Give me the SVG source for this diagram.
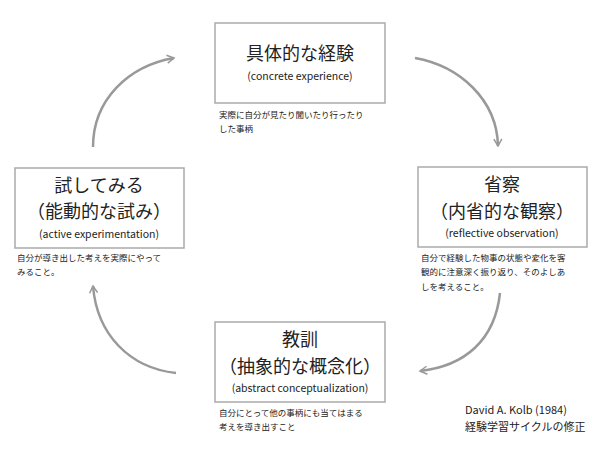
<svg xmlns="http://www.w3.org/2000/svg" width="600" height="450" viewBox="0 0 600 450">
<style>
.box{fill:#fff;stroke:#aaa;stroke-width:1.5}
text{font-family:"Noto Sans CJK JP","Noto Sans",sans-serif;fill:#222;text-anchor:middle}
.t{font-size:18px}
.s{font-size:10.5px}
.d{font-size:8.5px;text-anchor:start}
.c{font-size:11px;text-anchor:start}
.arr{fill:none;stroke:#999;stroke-width:2.5;marker-end:url(#ah)}
</style>
<defs><marker id="ah" viewBox="0 0 10 10" refX="8" refY="5" markerWidth="4" markerHeight="4" orient="auto" markerUnits="strokeWidth"><path d="M1,1 L8,5 L1,9" fill="none" stroke="#999" stroke-width="1.5"/></marker></defs>
<rect width="600" height="450" fill="#fff"/>
<g id="connectors">
<path class="arr" d="M93,147 C93,100 128,66 174,58"/>
<path class="arr" d="M415,58 C460,66 497,100 498,146"/>
<path class="arr" d="M500,293 C495,340 465,366 420,371"/>
<path class="arr" d="M176,373 C130,368 97,335 93,286"/>
</g>
<g id="concrete">
<rect class="box" x="215" y="23" width="170" height="80"/>
<text class="t" x="300" y="60">具体的な経験</text>
<text class="s" x="300" y="80">(concrete experience)</text>
<text class="d" x="219" y="118">実際に自分が見たり聞いたり行ったり</text>
<text class="d" x="219" y="132">した事柄</text>
</g>
<g id="reflective">
<rect class="box" x="418" y="167" width="169" height="80"/>
<text class="t" x="502" y="191">省察</text>
<text class="t" x="502" y="218">（内省的な観察）</text>
<text class="s" x="502" y="237">(reflective observation)</text>
<text class="d" x="421" y="261">自分で経験した物事の状態や変化を客</text>
<text class="d" x="421" y="275">観的に注意深く振り返り、そのよしあ</text>
<text class="d" x="421" y="290">しを考えること。</text>
</g>
<g id="abstract">
<rect class="box" x="215" y="322" width="170" height="80"/>
<text class="t" x="300" y="346">教訓</text>
<text class="t" x="300" y="373">（抽象的な概念化）</text>
<text class="s" x="300" y="392">(abstract conceptualization)</text>
<text class="d" x="219" y="416">自分にとって他の事柄にも当てはまる</text>
<text class="d" x="219" y="430">考えを導き出すこと</text>
</g>
<g id="active">
<rect class="box" x="15" y="168" width="169" height="80"/>
<text class="t" x="99" y="192">試してみる</text>
<text class="t" x="99" y="218">（能動的な試み）</text>
<text class="s" x="99" y="238">(active experimentation)</text>
<text class="d" x="17" y="261">自分が導き出した考えを実際にやって</text>
<text class="d" x="17" y="275">みること。</text>
</g>
<g id="credit">
<text class="c" x="465" y="414">David A. Kolb (1984)</text>
<text class="c" x="465" y="431">経験学習サイクルの修正</text>
</g>
</svg>
